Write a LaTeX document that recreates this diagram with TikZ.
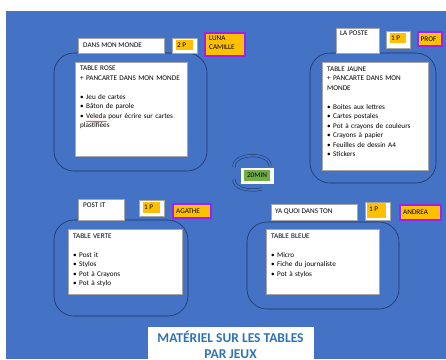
\documentclass[tikz,border=0pt]{standalone}
\usepackage{fontspec}
\setmainfont{Carlito}
\usetikzlibrary{decorations.pathmorphing}
\definecolor{bgblue}{HTML}{4472C4}
\definecolor{navy}{HTML}{1F3560}
\definecolor{hlyellow}{HTML}{FFC000}
\definecolor{purp}{HTML}{A020F0}
\definecolor{grn}{HTML}{70AD47}
\definecolor{titleblue}{HTML}{2E74B5}
\definecolor{boxgray}{HTML}{A6A6A6}
\tikzset{
  tablezone/.style={draw=navy, line width=0.6pt, rounded corners=20pt},
  whitebox/.style={draw=boxgray, line width=0.5pt, fill=white},
  hlbox/.style={fill=hlyellow},
  namebox/.style={draw=purp, line width=1.6pt, fill=hlyellow},
  txt/.style={inner sep=0pt, font=\fontsize{7.2}{9.5}\selectfont, align=left},
  boxtxt/.style={txt, anchor=north west},
  lbl/.style={txt, anchor=west},
  swirl/.style={navy, line width=0.5pt, double=bgblue, double distance=2pt},
}
\begin{document}
\begin{tikzpicture}[x=1pt,y=-1pt]
\useasboundingbox (0,0) rectangle (446,359);
\fill[white] (0,0) rectangle (446,359);
\fill[bgblue] (6,11) rectangle (446,359);

% ---- top-left: DANS MON MONDE
\draw[tablezone] (54,53) rectangle (207,171);
\draw[whitebox] (78,38) rectangle (164,53);
\node[lbl] (l1) at (83,45.5) {DANS MON MONDE};
\draw[whitebox] (172,38) rectangle (197,53);
\fill[hlbox] (176,40) rectangle (193,50);
\node[lbl] (p1) at (177,45) {2 P};
\draw[namebox] (205,33) rectangle (245,56);
\node[boxtxt] (n1) at (209,35.5) {LUNA\\CAMILLE};
\draw[whitebox] (75,62) rectangle (187,156);
\node[boxtxt, text width=106pt] (t1) at (80,66) {TABLE ROSE\\+ PANCARTE DANS MON MONDE\\[9.5pt]
\textbullet\ Jeu de cartes\\\textbullet\ Bâton de parole\\\textbullet\ Veleda pour écrire sur cartes\\plastifiées};
\draw[red, line width=0.4pt, decoration={snake, amplitude=0.5pt, segment length=2pt}, decorate] (86,121.5) -- (107,121.5);

% ---- top-right: LA POSTE
\draw[tablezone] (310,53) rectangle (436,183);
\draw[whitebox] (336,28) rectangle (379,53);
\node[lbl] (l2) at (340,33.5) {LA POSTE};
\draw[whitebox] (386,31) rectangle (410,48);
\fill[hlbox] (390,33) rectangle (406,43);
\node[lbl] (p2) at (391,38.5) {1 P};
\draw[namebox] (418,32) rectangle (442,46);
\node[lbl] (n2) at (420.5,39) {PROF};
\draw[whitebox] (322,62) rectangle (428,170);
\node[boxtxt, text width=100pt] (t2) at (327,66.5) {TABLE JAUNE\\+ PANCARTE DANS MON\\MONDE\\[9.5pt]
\textbullet\ Boites aux lettres\\\textbullet\ Cartes postales\\\textbullet\ Pot à crayons de couleurs\\\textbullet\ Crayons à papier\\\textbullet\ Feuilles de dessin A4\\\textbullet\ Stickers};

% ---- centre: 20MIN
\draw[swirl] (234,167) .. controls (233,152) and (271,152) .. (270,166);
\draw[swirl] (234,179) .. controls (233,188) and (248,192) .. (262,189);
\draw[whitebox, draw=white] (241,168) rectangle (273,183);
\fill[grn] (244,170) rectangle (270,181);
\node[txt, anchor=center] (m) at (257,175.5) {20MIN};

% ---- bottom-left: POST IT
\draw[tablezone] (54,220) rectangle (188,316);
\draw[whitebox] (78,199) rectangle (124,220);
\node[lbl] (l3) at (83,205) {POST IT};
\draw[whitebox] (139,200) rectangle (164,216);
\fill[hlbox] (143,202) rectangle (160,213);
\node[lbl] (p3) at (144,207) {1 P};
\draw[namebox] (173,204) rectangle (211,218);
\node[lbl] (n3) at (176,211) {AGATHE};
\draw[whitebox] (68,229) rectangle (182,294);
\node[boxtxt, text width=104pt] (t3) at (73,233.5) {TABLE VERTE\\[9.5pt]
\textbullet\ Post it\\\textbullet\ Stylos\\\textbullet\ Pot à Crayons\\\textbullet\ Pot à stylo};

% ---- bottom-right: YA QUOI DANS TON
\draw[tablezone] (247,222) rectangle (399,309);
\draw[whitebox] (271,204) rectangle (357,220);
\node[lbl] (l4) at (275,212) {YA QUOI DANS TON};
\draw[whitebox] (365,202) rectangle (390,220);
\fill[hlbox] (367,203) rectangle (386,218);
\node[lbl] (p4) at (369,209) {1 P};
\draw[namebox] (400,205) rectangle (441,220);
\node[lbl] (n4) at (403,212) {ANDREA};
\draw[whitebox] (266,229) rectangle (379,294);
\node[boxtxt, text width=104pt] (t4) at (271,233.5) {TABLE BLEUE\\[9.5pt]
\textbullet\ Micro\\\textbullet\ Fiche du journaliste\\\textbullet\ Pot à stylos};

% ---- title
\draw[whitebox, draw=white] (148,327) rectangle (313,362);
\node[inner sep=0pt, align=center, text=titleblue, font=\bfseries\fontsize{13.5}{16}\selectfont, anchor=center] (title) at (230.5,345) {MATÉRIEL SUR LES TABLES\\PAR JEUX};
\end{tikzpicture}
\end{document}
